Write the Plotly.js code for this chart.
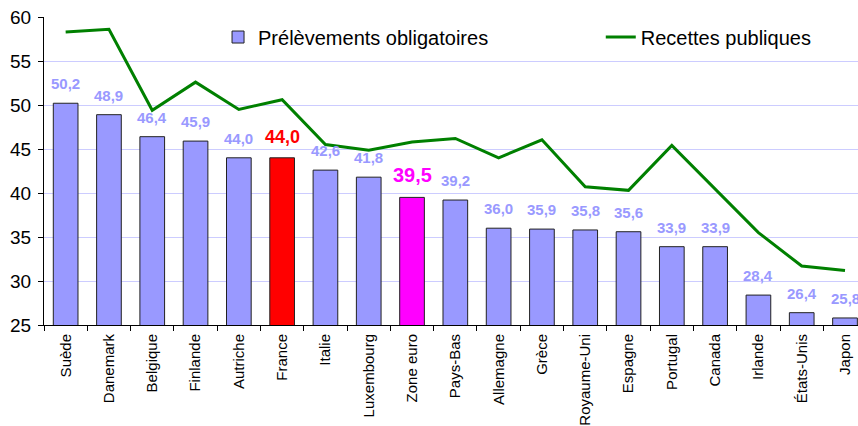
<!DOCTYPE html>
<html>
<head>
<meta charset="utf-8">
<script src="https://cdn.plot.ly/plotly-3.0.1.min.js"></script>
<style>
html,body{margin:0;padding:0;background:#fff;}
#chart{width:858px;height:426px;}
</style>
</head>
<body>
<div id="chart"></div>
<script>
const categories = ["Suède","Danemark","Belgique","Finlande","Autriche","France","Italie","Luxembourg","Zone euro","Pays-Bas","Allemagne","Grèce","Royaume-Uni","Espagne","Portugal","Canada","Irlande","États-Unis","Japon"];
const prelevements = [50.2,48.9,46.4,45.9,44.0,44.0,42.6,41.8,39.5,39.2,36.0,35.9,35.8,35.6,33.9,33.9,28.4,26.4,25.8];
const recettes = [58.3,58.6,49.4,52.6,49.5,50.6,45.5,44.85,45.8,46.2,44.0,46.05,40.7,40.3,45.4,40.5,35.5,31.7,31.2];
const yTicks = [25,30,35,40,45,50,55,60];

const baseColor = "#9999FF";
const highlight = {"France":"#FF0000","Zone euro":"#FF00FF"};
const highlightSize = {"France":18,"Zone euro":20};

const barColors = categories.map(c => highlight[c] || baseColor);
const FONT = "Liberation Sans, Arial, sans-serif";

const bars = {
  type: "bar",
  name: "Prélèvements obligatoires",
  x: categories,
  y: prelevements,
  base: 0,
  width: 0.57,
  marker: {color: barColors, line: {color: "#222222", width: 1}},
  legend: "legend",
  hoverinfo: "none"
};
const line = {
  type: "scatter",
  mode: "lines",
  name: "Recettes publiques",
  x: categories,
  y: recettes,
  line: {color: "#008000", width: 3},
  legend: "legend2",
  hoverinfo: "none"
};

const annotations = categories.map((c, i) => ({
  x: c, y: prelevements[i], xref: "x", yref: "y",
  text: prelevements[i].toFixed(1).replace(".", ","),
  showarrow: false, yanchor: "bottom", yshift: 9,
  font: {family: FONT, size: highlightSize[c] || 15, color: highlight[c] || baseColor, weight: "bold"}
}));

const legendCommon = {orientation: "h", xanchor: "left", yanchor: "middle", y: 0.935,
  font: {family: FONT, size: 20, color: "#000"}, bgcolor: "rgba(0,0,0,0)", borderwidth: 0};

const layout = {
  width: 858, height: 426,
  margin: {l: 44, r: 0, t: 17, b: 101, pad: 0},
  paper_bgcolor: "#fff", plot_bgcolor: "#fff",
  font: {family: FONT, color: "#000"},
  bargap: 0.43,
  showlegend: true,
  legend: Object.assign({}, legendCommon, {x: 0.2138}),
  legend2: Object.assign({}, legendCommon, {x: 0.684}),
  xaxis: {
    type: "category", range: [-0.5, 18.3],
    tickangle: -90, tickfont: {family: FONT, size: 15},
    ticks: "outside", tickson: "boundaries", ticklen: 5, tickcolor: "#000",
    ticklabelstandoff: 2,
    showline: true, linecolor: "#000", linewidth: 1, showgrid: false, fixedrange: true
  },
  yaxis: {
    range: [25, 60], tickvals: yTicks, ticktext: yTicks.map(String),
    tickfont: {family: FONT, size: 19}, ticks: "outside", ticklen: 5, tickcolor: "#000",
    ticklabelstandoff: 3,
    showline: true, linecolor: "#000", linewidth: 1,
    showgrid: true, gridcolor: "#CCCCFF", gridwidth: 1, zeroline: false, fixedrange: true
  },
  annotations: annotations
};

Plotly.newPlot("chart", [bars, line], layout, {staticPlot: true, displayModeBar: false});
</script>
</body>
</html>
